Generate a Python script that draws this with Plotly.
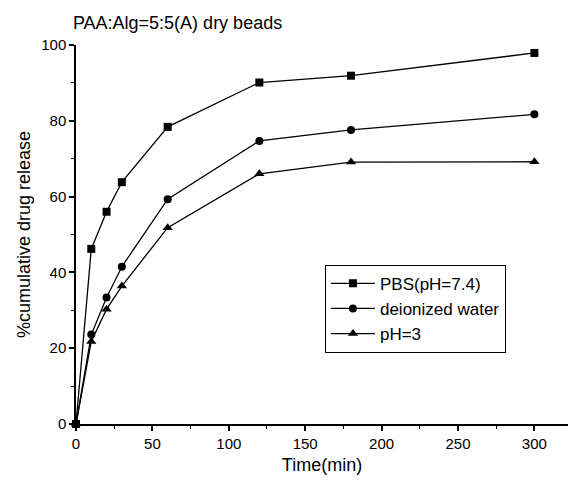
import plotly.graph_objects as go

# Release time points (min)
time_min = [0, 10, 20, 30, 60, 120, 180, 300]

# Cumulative drug release (%) for each medium
pbs = [0, 46.2, 56.0, 63.8, 78.4, 90.1, 91.9, 97.9]
water = [0, 23.6, 33.4, 41.5, 59.3, 74.7, 77.6, 81.7]
ph3 = [0, 21.8, 30.3, 36.4, 51.8, 66.0, 69.1, 69.2]

series_names = ["PBS(pH=7.4)", "deionized water", "pH=3"]
series_symbols = ["square", "circle", "triangle-up"]
series_values = [pbs, water, ph3]

FONT = "Liberation Sans, Arial, sans-serif"

fig = go.Figure()
for name, sym, vals in zip(series_names, series_symbols, series_values):
    fig.add_trace(go.Scatter(
        x=time_min, y=vals, name=name,
        mode="lines+markers",
        line=dict(color="black", width=1.3),
        marker=dict(symbol=sym, size=8 if sym != "triangle-up" else 9,
                    color="black", line=dict(width=0)),
        cliponaxis=False,
    ))

axis_common = dict(
    showline=True, linecolor="black", linewidth=1.5,
    ticks="outside", ticklen=5, tickwidth=1.5, tickcolor="black",
    showgrid=False, zeroline=False, mirror=False,
    tickfont=dict(family=FONT, size=15, color="black"),
)

fig.update_layout(
    width=574, height=484,
    paper_bgcolor="white", plot_bgcolor="white",
    margin=dict(l=76, r=6, t=45, b=60),
    font=dict(family=FONT, color="black"),
    title=dict(text="PAA:Alg=5:5(A) dry beads", x=0.127, xanchor="left",
               y=0.953, yanchor="middle",
               font=dict(family=FONT, size=18, color="black")),
    xaxis=dict(range=[0, 322], tickvals=[0, 50, 100, 150, 200, 250, 300],
               minor=dict(ticks="outside", dtick=25, tick0=0, ticklen=3,
                          tickwidth=1.2, tickcolor="black"),
               title=dict(text="Time(min)", standoff=8,
                          font=dict(family=FONT, size=18, color="black")),
               **axis_common),
    yaxis=dict(range=[0, 100], tickvals=[0, 20, 40, 60, 80, 100],
               minor=dict(ticks="outside", dtick=10, tick0=0, ticklen=3,
                          tickwidth=1.2, tickcolor="black"),
               title=dict(text="%cumulative drug release", standoff=6,
                          font=dict(family=FONT, size=18, color="black")),
               **axis_common),
    legend=dict(x=0.506, y=0.42, xanchor="left", yanchor="top",
                bordercolor="black", borderwidth=1, bgcolor="white",
                font=dict(family=FONT, size=17, color="black"),
                tracegroupgap=0, itemwidth=44),
    showlegend=True,
)

fig.write_html("out.html")
